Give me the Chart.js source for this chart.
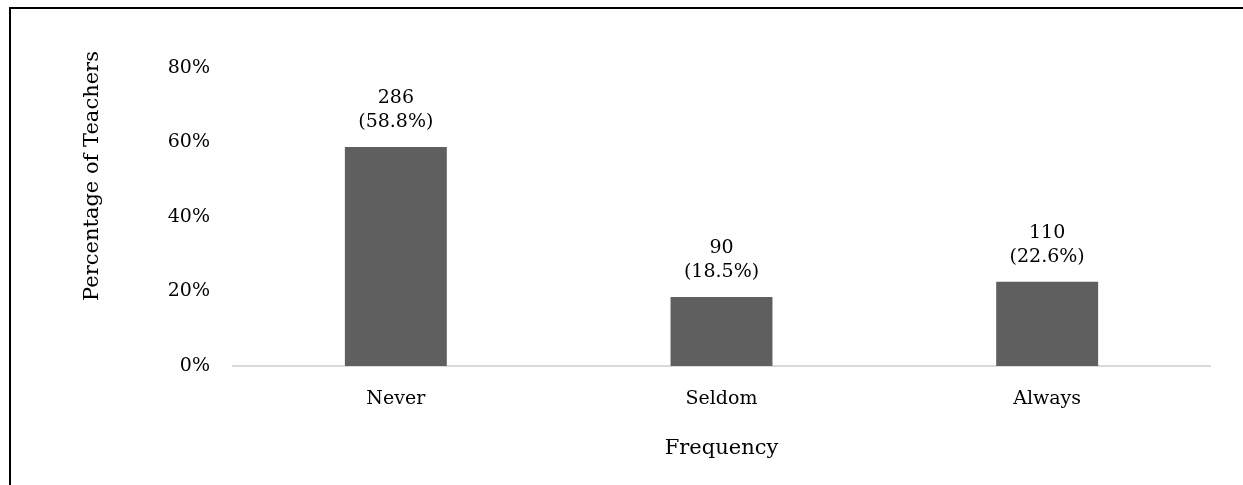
<!DOCTYPE html>
<html>
<head>
<meta charset="utf-8">
<script src="https://cdn.jsdelivr.net/npm/chart.js@4"></script>
<style>
  body { margin: 0; background: #fff; }
  .wrap { position: relative; width: 1243px; height: 485px; overflow: hidden; }
  .frame { position: absolute; left: 9px; top: 7px; width: 1300px; height: 600px;
           border-left: 2px solid #000; border-top: 2px solid #000; pointer-events: none; }
  canvas { position: absolute; left: 0; top: 0; }
</style>
</head>
<body>
<div class="wrap">
  <canvas id="freqChart" width="1243" height="485"></canvas>
  <div class="frame"></div>
</div>
<script>
const categories = ['Never', 'Seldom', 'Always'];
const counts = [286, 90, 110];
const percents = [58.8, 18.5, 22.6];
const yTicks = [0, 20, 40, 60, 80];

const serif = "'DejaVu Serif', 'Liberation Serif', serif";

// two-line label (count, then percentage) over each bar
const barLabels = {
    id: 'barLabels',
    afterDatasetsDraw(chart) {
        const ctx = chart.ctx;
        const meta = chart.getDatasetMeta(0);
        ctx.save();
        ctx.font = '19px ' + serif;
        ctx.fillStyle = '#000';
        ctx.textAlign = 'center';
        ctx.textBaseline = 'middle';
        meta.data.forEach((bar, i) => {
            ctx.fillText('(' + percents[i].toFixed(1) + '%)', bar.x, bar.y - 25);
            ctx.fillText(String(counts[i]), bar.x, bar.y - 49);
        });
        ctx.restore();
    }
};

// y-axis title sits higher than the plot centre in the original
const yTitle = {
    id: 'yTitle',
    afterDraw(chart) {
        const ctx = chart.ctx;
        ctx.save();
        ctx.font = '21px ' + serif;
        ctx.fillStyle = '#000';
        ctx.textAlign = 'center';
        ctx.textBaseline = 'middle';
        ctx.translate(93, 176);
        ctx.rotate(-Math.PI / 2);
        ctx.fillText('Percentage of Teachers', 0, 0);
        ctx.restore();
    }
};

new Chart(document.getElementById('freqChart').getContext('2d'), {
    type: 'bar',
    data: {
        labels: categories,
        datasets: [{
            data: percents,
            backgroundColor: '#5f5f5f',
            barPercentage: 0.313,
            categoryPercentage: 1
        }]
    },
    options: {
        responsive: false,
        animation: false,
        layout: { padding: { left: 76, right: 33, top: 68, bottom: 20 } },
        plugins: {
            legend: { display: false },
            tooltip: { enabled: false }
        },
        scales: {
            x: {
                grid: { display: false },
                border: { display: true, color: '#d9d9d9', width: 2 },
                ticks: { color: '#000', font: { family: serif, size: 19 }, padding: 14 },
                title: { display: true, text: 'Frequency', color: '#000', font: { family: serif, size: 21 } },
                afterFit: (scale) => { scale.height = 99; }
            },
            y: {
                min: 0,
                max: 80,
                afterBuildTicks: (scale) => { scale.ticks = yTicks.map(v => ({ value: v })); },
                grid: { display: false },
                border: { display: false },
                ticks: { color: '#000', font: { family: serif, size: 19 }, padding: 15,
                         callback: (v) => v + '%' },
                afterFit: (scale) => { scale.width = 157; }
            }
        }
    },
    plugins: [barLabels, yTitle]
});
</script>
</body>
</html>
